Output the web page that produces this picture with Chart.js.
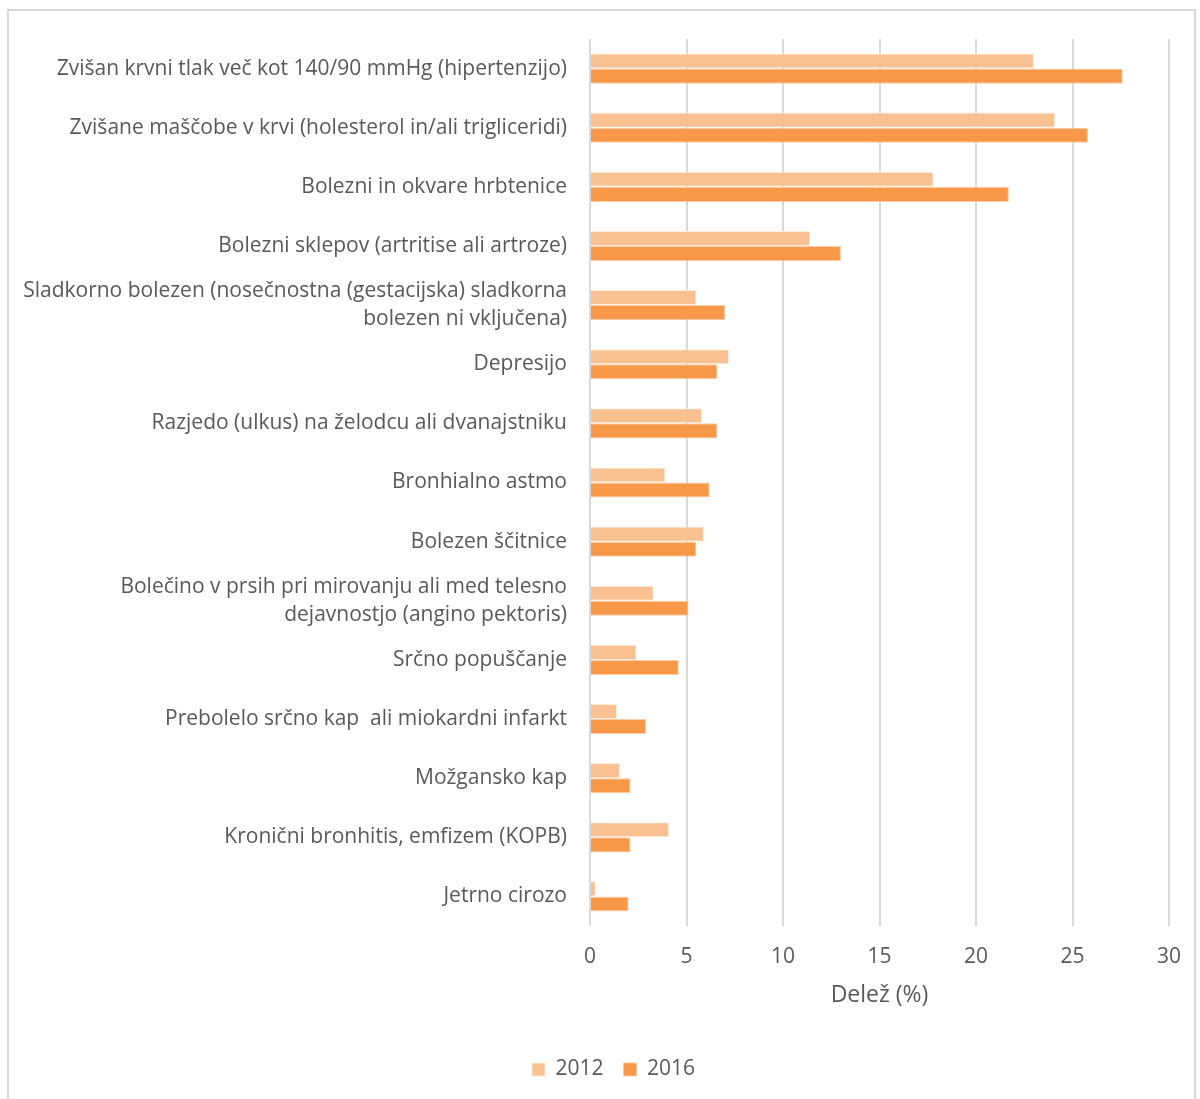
<!DOCTYPE html>
<html>
<head>
<meta charset="utf-8">
<script src="https://cdn.jsdelivr.net/npm/chart.js@4.4.1/dist/chart.umd.min.js"></script>
<style>
  html, body { margin: 0; padding: 0; background: #fff; }
  #wrap { position: relative; width: 1200px; height: 1099px; overflow: hidden; }
  #frame { position: absolute; left: 7px; top: 9px; width: 1189px; height: 1200px; border: 2px solid #d9d9d9; box-sizing: border-box; }
  #chart { position: absolute; left: 0; top: 0; }
</style>
</head>
<body>
<div id="wrap">
  <div id="frame"></div>
  <canvas id="chart" width="1200" height="1099"></canvas>
</div>
<script>
// bolezni / stanja
const categories = [
  'Zvišan krvni tlak več kot 140/90 mmHg (hipertenzijo)',
  'Zvišane maščobe v krvi (holesterol in/ali trigliceridi)',
  'Bolezni in okvare hrbtenice',
  'Bolezni sklepov (artritise ali artroze)',
  ['Sladkorno bolezen (nosečnostna (gestacijska) sladkorna', 'bolezen ni vključena)'],
  'Depresijo',
  'Razjedo (ulkus) na želodcu ali dvanajstniku',
  'Bronhialno astmo',
  'Bolezen ščitnice',
  ['Bolečino v prsih pri mirovanju ali med telesno', 'dejavnostjo (angino pektoris)'],
  'Srčno popuščanje',
  'Prebolelo srčno kap  ali miokardni infarkt',
  'Možgansko kap',
  'Kronični bronhitis, emfizem (KOPB)',
  'Jetrno cirozo'
];
const values2012 = [23.0, 24.1, 17.8, 11.4, 5.5, 7.2, 5.8, 3.9, 5.9, 3.3, 2.4, 1.4, 1.55, 4.1, 0.3];
const values2016 = [27.6, 25.8, 21.7, 13.0, 7.0, 6.6, 6.6, 6.2, 5.5, 5.1, 4.6, 2.9, 2.1, 2.1, 2.0];
const xTicks = [0, 5, 10, 15, 20, 25, 30];

const FONT = "'Open Sans', 'Noto Sans', sans-serif";
const TXT = '#595959';

// legenda je v izvirniku malo desno od sredine
const shiftLegend = {
  id: 'shiftLegend',
  afterLayout(chart) {
    chart.legend.left += 29;
    chart.legend.right += 29;
  }
};

new Chart(document.getElementById('chart').getContext('2d'), {
  type: 'bar',
  data: {
    labels: categories,
    datasets: [
      { label: '2012', data: values2012, backgroundColor: '#f9c192', borderColor: 'rgba(255,235,215,0.9)', borderWidth: 1 },
      { label: '2016', data: values2016, backgroundColor: '#f79848', borderColor: 'rgba(252,200,160,0.9)', borderWidth: 1 }
    ]
  },
  plugins: [shiftLegend],
  options: {
    responsive: false,
    animation: false,
    indexAxis: 'y',
    datasets: { bar: { categoryPercentage: 0.51, barPercentage: 1 } },
    layout: { padding: { left: 0, right: 31, top: 39, bottom: 9 } },
    plugins: {
      legend: {
        position: 'bottom',
        labels: {
          color: TXT, font: { family: FONT, size: 21 },
          boxWidth: 13, boxHeight: 13, padding: 20
        }
      },
      tooltip: { enabled: false }
    },
    scales: {
      x: {
        min: 0, max: 30,
        afterBuildTicks: s => { s.ticks = xTicks.map(v => ({ value: v })); },
        grid: { color: '#d9d9d9', lineWidth: 2, drawTicks: false },
        border: { display: false },
        ticks: { color: TXT, font: { family: FONT, size: 21 }, padding: 18 },
        title: { display: true, text: 'Delež (%)', color: TXT, font: { family: FONT, size: 23 }, padding: { top: 4, bottom: 30 } },
        afterFit: s => { s.height = 113; }
      },
      y: {
        grid: { display: false },
        border: { display: false },
        ticks: { color: TXT, font: { family: FONT, size: 21, lineHeight: 1.33 }, padding: 15, autoSkip: false },
        afterFit: s => { s.width = 590; }
      }
    }
  }
});
</script>
</body>
</html>
